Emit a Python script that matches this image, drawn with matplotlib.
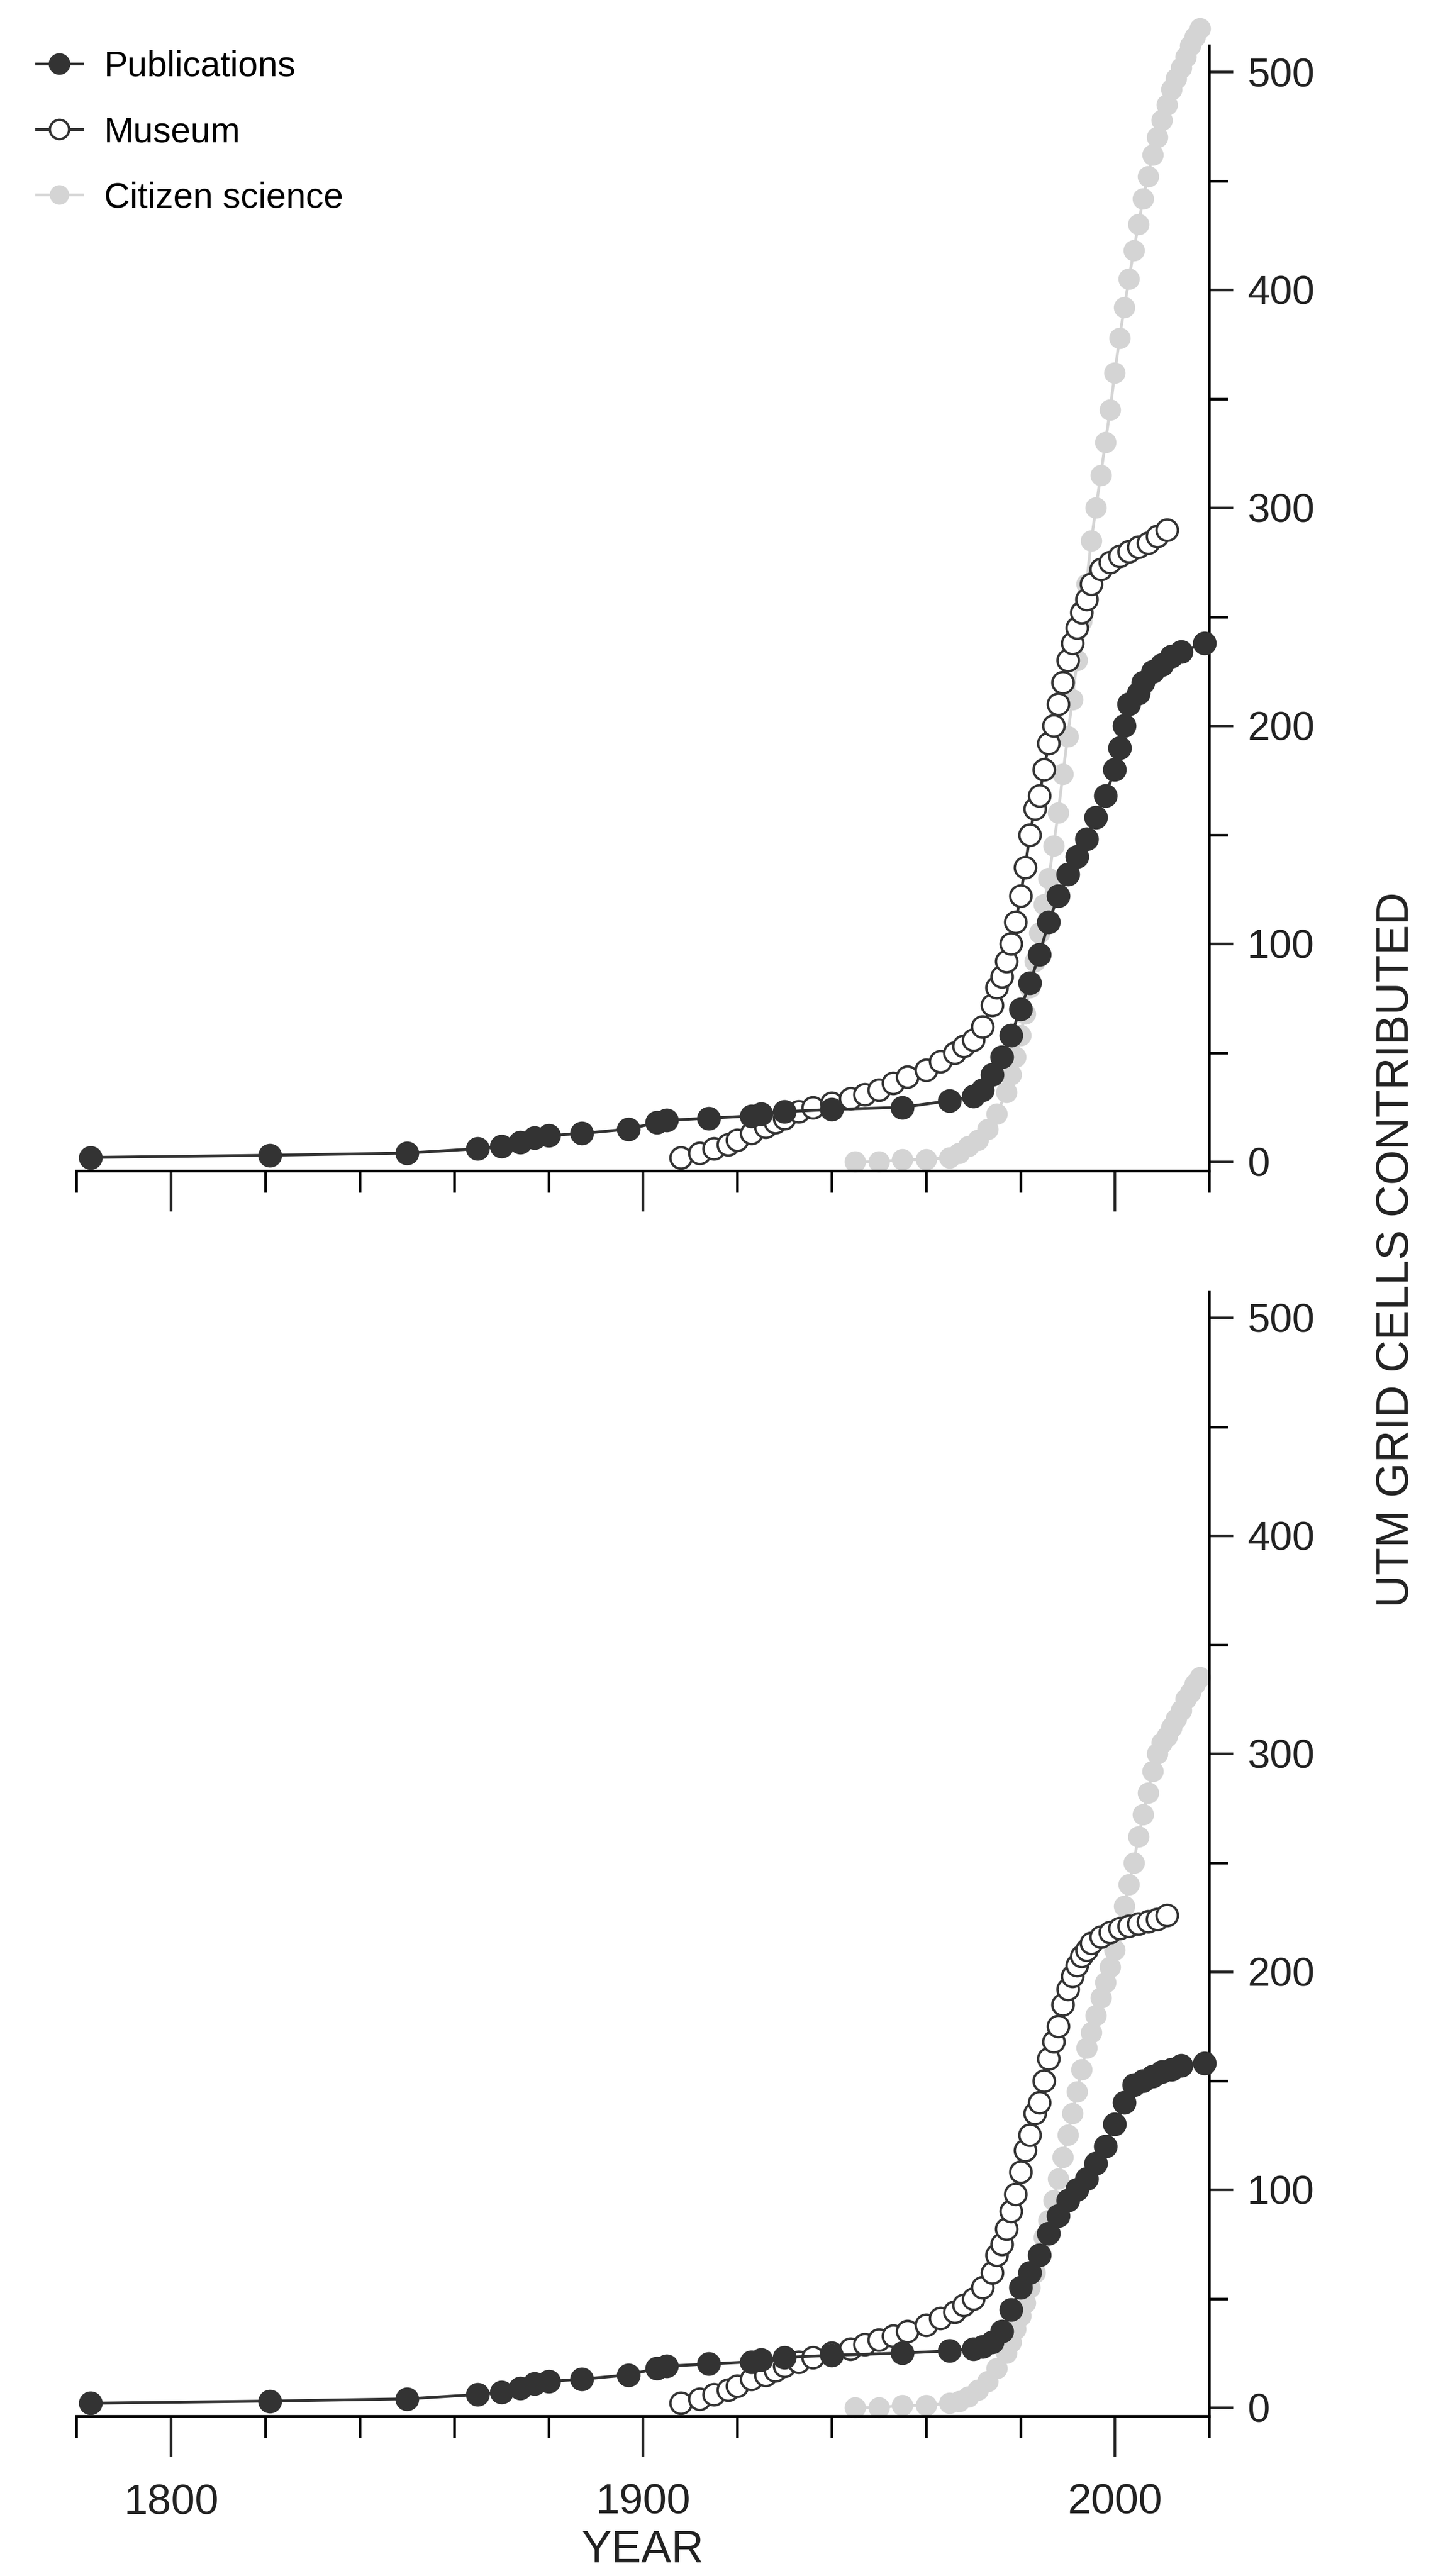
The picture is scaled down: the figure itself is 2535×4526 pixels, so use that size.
import matplotlib
matplotlib.use("Agg")
import matplotlib.pyplot as plt
from matplotlib.ticker import MultipleLocator, FixedLocator

plt.rcParams['font.family'] = ['Liberation Sans', 'DejaVu Sans']

# ---- top panel data (year, cumulative cells) ----
pub_top_x = [1783, 1821, 1850, 1865, 1870, 1874, 1877, 1880, 1887, 1897, 1903, 1905, 1914, 1923, 1925,
             1930, 1940, 1955, 1965, 1970, 1972, 1974, 1976, 1978, 1980, 1982, 1984, 1986, 1988, 1990,
             1992, 1994, 1996, 1998, 2000, 2001, 2002, 2003, 2005, 2006, 2008, 2010, 2012, 2014, 2019]
pub_top_y = [2, 3, 4, 6, 7, 9, 11, 12, 13, 15, 18, 19, 20, 21, 22,
             23, 24, 25, 28, 30, 33, 40, 48, 58, 70, 82, 95, 110, 122, 132,
             140, 148, 158, 168, 180, 190, 200, 210, 215, 220, 225, 228, 232, 234, 238]
mus_top_x = [1908, 1912, 1915, 1918, 1920, 1923, 1926, 1928, 1930, 1933, 1936, 1940, 1944, 1947, 1950,
             1953, 1956, 1960, 1963, 1966, 1968, 1970, 1972, 1974, 1975, 1976, 1977, 1978, 1979, 1980,
             1981, 1982, 1983, 1984, 1985, 1986, 1987, 1988, 1989, 1990, 1991, 1992, 1993, 1994, 1995,
             1997, 1999, 2001, 2003, 2005, 2007, 2009, 2011]
mus_top_y = [2, 4, 6, 8, 10, 13, 16, 18, 20, 23, 25, 27, 29, 31, 33,
             36, 39, 42, 46, 50, 53, 56, 62, 72, 80, 85, 92, 100, 110, 122,
             135, 150, 162, 168, 180, 192, 200, 210, 220, 230, 238, 245, 252, 258, 265,
             272, 275, 278, 280, 282, 284, 287, 290]
cit_top_x = [1945, 1950, 1955, 1960, 1965, 1967, 1969, 1971, 1973, 1975, 1977, 1978, 1979, 1980, 1981,
             1982, 1983, 1984, 1985, 1986, 1987, 1988, 1989, 1990, 1991, 1992, 1993, 1994, 1995, 1996,
             1997, 1998, 1999, 2000, 2001, 2002, 2003, 2004, 2005, 2006, 2007, 2008, 2009, 2010, 2011,
             2012, 2013, 2014, 2015, 2016, 2017, 2018]
cit_top_y = [0, 0, 1, 1, 2, 4, 7, 10, 15, 22, 32, 40, 48, 58, 68,
             80, 92, 105, 118, 130, 145, 160, 178, 195, 212, 230, 248, 265, 285, 300,
             315, 330, 345, 362, 378, 392, 405, 418, 430, 442, 452, 462, 470, 478, 485,
             492, 497, 502, 507, 512, 516, 520]

# ---- bottom panel data ----
pub_bot_x = [1783, 1821, 1850, 1865, 1870, 1874, 1877, 1880, 1887, 1897, 1903, 1905, 1914, 1923, 1925,
             1930, 1940, 1955, 1965, 1970, 1972, 1974, 1976, 1978, 1980, 1982, 1984, 1986, 1988, 1990,
             1992, 1994, 1996, 1998, 2000, 2002, 2004, 2006, 2008, 2010, 2012, 2014, 2019]
pub_bot_y = [2, 3, 4, 6, 7, 9, 11, 12, 13, 15, 18, 19, 20, 21, 22,
             23, 24, 25, 26, 27, 28, 30, 35, 45, 55, 62, 70, 80, 88, 95,
             100, 105, 112, 120, 130, 140, 148, 150, 152, 154, 155, 157, 158]
mus_bot_x = [1908, 1912, 1915, 1918, 1920, 1923, 1926, 1928, 1930, 1933, 1936, 1940, 1944, 1947, 1950,
             1953, 1956, 1960, 1963, 1966, 1968, 1970, 1972, 1974, 1975, 1976, 1977, 1978, 1979, 1980,
             1981, 1982, 1983, 1984, 1985, 1986, 1987, 1988, 1989, 1990, 1991, 1992, 1993, 1994, 1995,
             1997, 1999, 2001, 2003, 2005, 2007, 2009, 2011]
mus_bot_y = [2, 4, 6, 8, 10, 13, 15, 17, 19, 21, 23, 25, 27, 29, 31,
             33, 35, 38, 41, 44, 47, 50, 55, 62, 70, 75, 82, 90, 98, 108,
             118, 125, 135, 140, 150, 160, 168, 175, 185, 192, 198, 203, 207, 210, 213,
             216, 218, 220, 221, 222, 223, 224, 226]
cit_bot_x = [1945, 1950, 1955, 1960, 1965, 1967, 1969, 1971, 1973, 1975, 1977, 1978, 1979, 1980, 1981,
             1982, 1983, 1984, 1985, 1986, 1987, 1988, 1989, 1990, 1991, 1992, 1993, 1994, 1995, 1996,
             1997, 1998, 1999, 2000, 2001, 2002, 2003, 2004, 2005, 2006, 2007, 2008, 2009, 2010, 2011,
             2012, 2013, 2014, 2015, 2016, 2017, 2018]
cit_bot_y = [0, 0, 1, 1, 2, 3, 5, 8, 12, 18, 25, 30, 36, 42, 48,
             55, 62, 70, 78, 86, 95, 105, 115, 125, 135, 145, 155, 165, 172, 180,
             188, 195, 202, 210, 220, 230, 240, 250, 262, 272, 282, 292, 300, 305, 308,
             312, 316, 320, 325, 328, 332, 335]

PUB_C = '#333333'
CIT_C = '#d4d4d4'

fig = plt.figure(figsize=(8.45, 15.087), dpi=300)
ax_top = fig.add_axes([0.053, 0.5456, 0.785, 0.4366])
ax_bot = fig.add_axes([0.053, 0.0620, 0.785, 0.4366])


def draw_panel(ax, px, py, mx, my, cx, cy):
    ax.plot(cx, cy, '-o', color=CIT_C, mfc=CIT_C, mec=CIT_C, ms=8, lw=1.2, label='Citizen science', clip_on=False, zorder=1)
    ax.plot(px, py, '-o', color=PUB_C, mfc=PUB_C, mec=PUB_C, ms=9, lw=1.2, label='Publications', clip_on=False, zorder=3)
    ax.plot(mx, my, '-o', color=PUB_C, mfc='white', mec=PUB_C, mew=1.0, ms=9, lw=1.2, label='Museum', clip_on=False, zorder=2)
    ax.set_xlim(1780, 2020)
    ax.set_ylim(-4, 512)
    for s in ['left', 'top']:
        ax.spines[s].set_visible(False)
    ax.yaxis.tick_right()
    ax.yaxis.set_major_locator(FixedLocator([0, 100, 200, 300, 400, 500]))
    ax.yaxis.set_minor_locator(MultipleLocator(50))
    ax.xaxis.set_major_locator(FixedLocator([1800, 1900, 2000]))
    ax.xaxis.set_minor_locator(MultipleLocator(20))
    ax.tick_params(axis='x', which='major', length=17, width=1.1, labelsize=18, pad=11, colors='#222222')
    ax.tick_params(axis='x', which='minor', length=9, width=1.1)
    ax.tick_params(axis='y', which='major', length=10, width=1.1, labelsize=17, pad=6, colors='#222222')
    ax.tick_params(axis='y', which='minor', length=8, width=1.1)
    for s in ['right', 'bottom']:
        ax.spines[s].set_linewidth(1.1)


draw_panel(ax_top, pub_top_x, pub_top_y, mus_top_x, mus_top_y, cit_top_x, cit_top_y)
draw_panel(ax_bot, pub_bot_x, pub_bot_y, mus_bot_x, mus_bot_y, cit_bot_x, cit_bot_y)
ax_top.tick_params(axis='x', labelbottom=False)

ax_bot.set_xlabel('YEAR', fontsize=19, labelpad=3, color='#222222')
fig.text(0.968, 0.515, 'UTM GRID CELLS CONTRIBUTED', rotation=90, ha='center', va='center',
         fontsize=19, color='#222222')

h, l = ax_top.get_legend_handles_labels()
order = [1, 2, 0]
fig.legend([h[i] for i in order], [l[i] for i in order], loc='upper left',
           bbox_to_anchor=(0.003, 0.993), frameon=False, fontsize=15, handlelength=1.3,
           labelspacing=0.9, handletextpad=0.6, markerscale=0.9)

fig.savefig('out.png', dpi=300)
